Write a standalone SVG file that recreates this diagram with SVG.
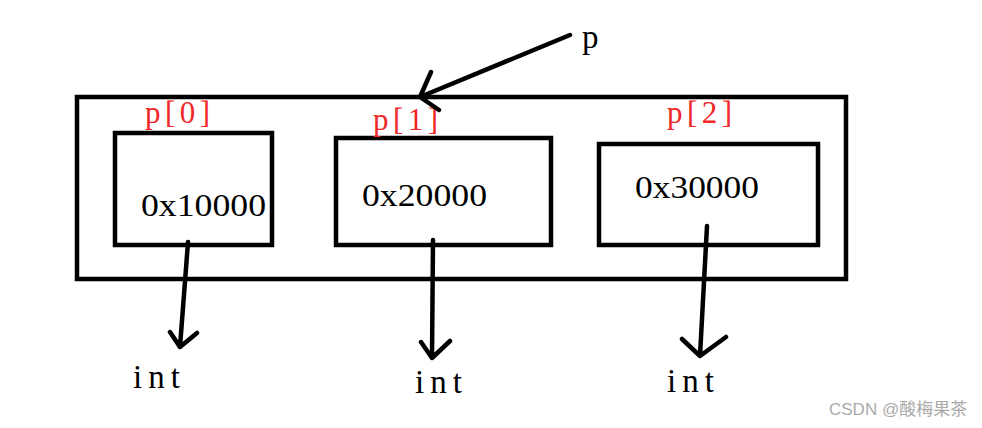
<svg xmlns="http://www.w3.org/2000/svg" width="982" height="428" viewBox="0 0 982 428">
<style>
.box{fill:none;stroke:#000;stroke-width:4.5}
.arr{fill:none;stroke:#000;stroke-width:4.5;stroke-linecap:round;stroke-linejoin:round}
.val{font-family:"Liberation Serif",serif;font-size:32px;fill:#000}
.idx{font-family:"Liberation Serif",serif;font-size:31px;fill:#f02828}
.lbl{font-family:"Liberation Serif",serif;font-size:33px;fill:#000}
.wm{font-family:"Liberation Sans","Noto Sans CJK SC",sans-serif;font-size:17px;fill:#aaa}
</style>
<rect width="982" height="428" fill="#fff"/>
<g id="array">
<rect class="box" x="77" y="97" width="769" height="182"/>
</g>
<g id="p0">
<rect class="box" x="115" y="133" width="157" height="112"/>
<text class="idx" x="145" y="123" textLength="65" lengthAdjust="spacing">p[0]</text>
<text class="val" x="141" y="216" textLength="125" lengthAdjust="spacingAndGlyphs">0x10000</text>
</g>
<g id="p1">
<rect class="box" x="336" y="138" width="215" height="107"/>
<text class="idx" x="373" y="130" textLength="65" lengthAdjust="spacing">p[1]</text>
<text class="val" x="362" y="206" textLength="125" lengthAdjust="spacingAndGlyphs">0x20000</text>
</g>
<g id="p2">
<rect class="box" x="599" y="144" width="219" height="101"/>
<text class="idx" x="667" y="123" textLength="65" lengthAdjust="spacing">p[2]</text>
<text class="val" x="635" y="198" textLength="124" lengthAdjust="spacingAndGlyphs">0x30000</text>
</g>
<g id="p">
<text class="lbl" x="582" y="48">p</text>
</g>
<g id="int0"><text class="lbl" x="133" y="388" textLength="47" lengthAdjust="spacing">int</text></g>
<g id="int1"><text class="lbl" x="415" y="393" textLength="47" lengthAdjust="spacing">int</text></g>
<g id="int2"><text class="lbl" x="667" y="392" textLength="47" lengthAdjust="spacing">int</text></g>
<g id="connectors">
<path class="arr" d="M570 35 L420 97 M431 72 L420 97 L439 110"/>
<path class="arr" d="M188 242 L180 347 M170 332 L180 347 L197 333"/>
<path class="arr" d="M433 240 L432 358 M421 342 L432 358 L450 341"/>
<path class="arr" d="M707 226 L700 356 M682 339 L700 356 L726 337"/>
</g>
<text class="wm" x="829" y="415">CSDN @酸梅果茶</text>
</svg>
